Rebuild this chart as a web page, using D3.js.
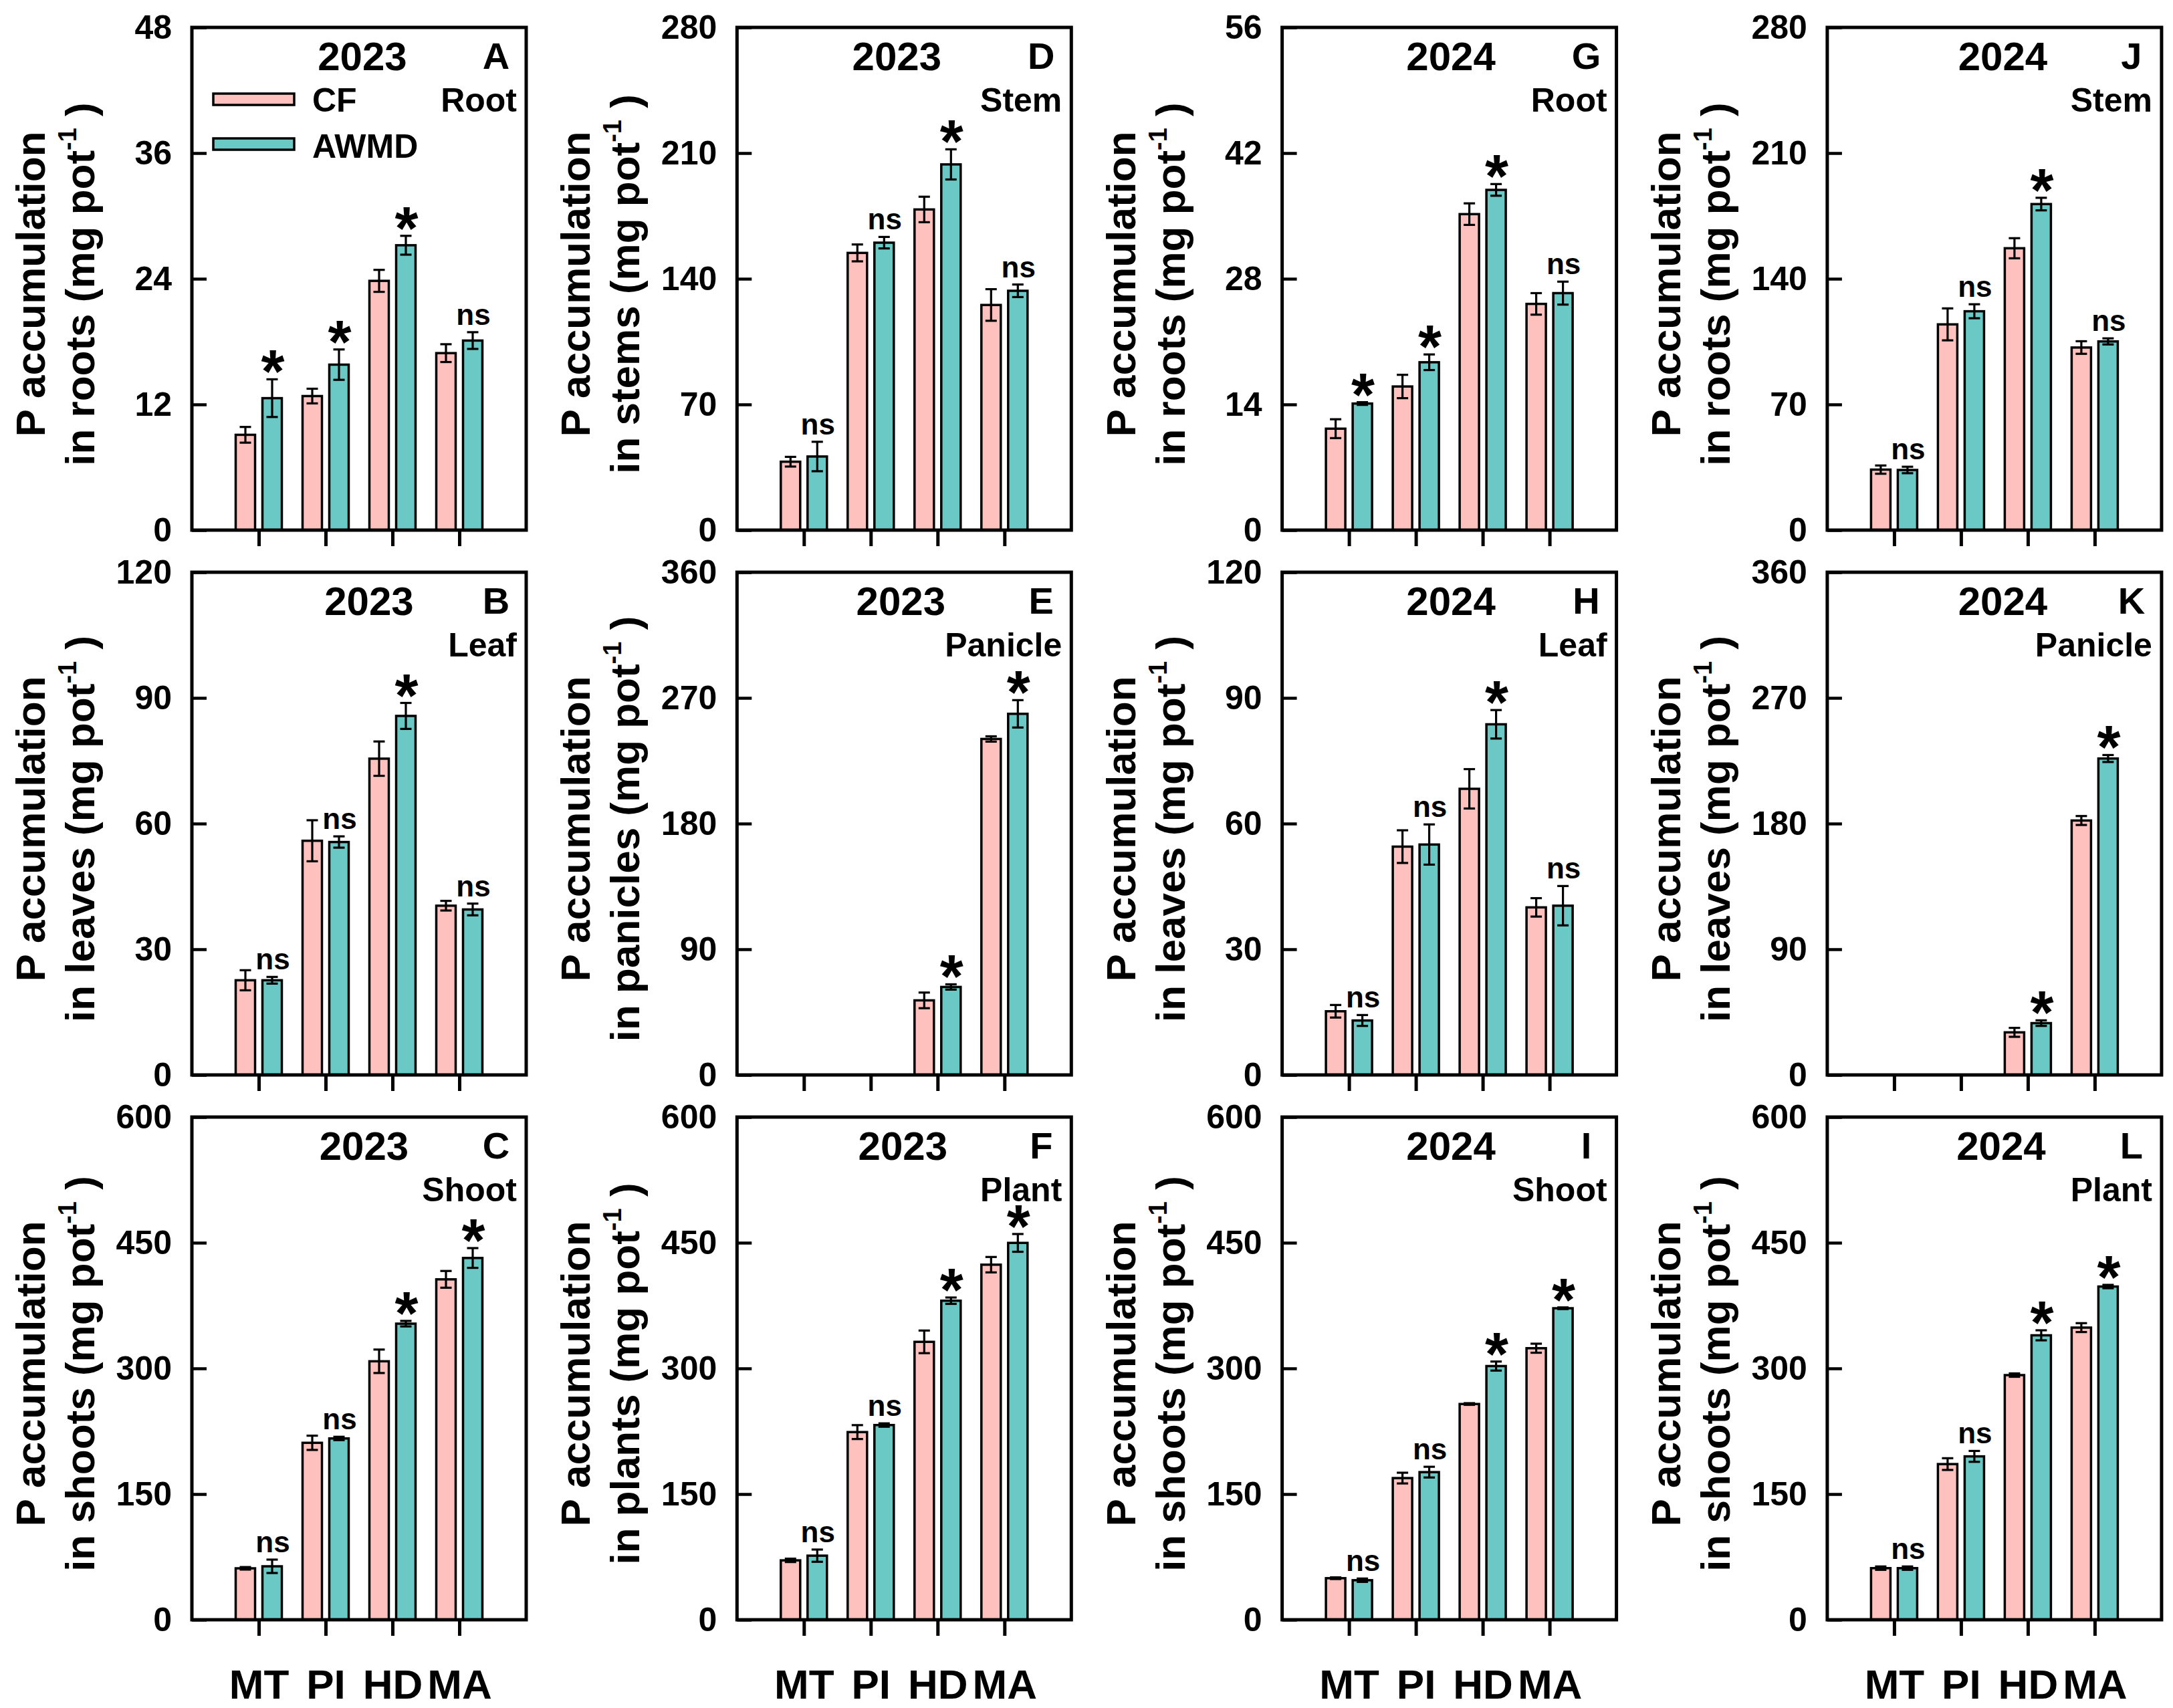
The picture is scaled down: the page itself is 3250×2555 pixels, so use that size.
<!DOCTYPE html>
<html>
<head>
<meta charset="utf-8">
<script src="https://cdn.jsdelivr.net/npm/d3@7"></script>
<style>
  body { margin: 0; background: #fff; }
  text { font-family: "Liberation Sans", Arial, sans-serif; font-weight: bold; }
</style>
</head>
<body>
<div id="chart"></div>
<script>

// ---- data ----
const stages = ["MT", "PI", "HD", "MA"];
const panelIds = ["A", "B", "C", "D", "E", "F", "G", "H", "I", "J", "K", "L"];
const years = ["2023", "2023", "2023", "2023", "2023", "2023",
               "2024", "2024", "2024", "2024", "2024", "2024"];
const organs = ["Root", "Leaf", "Shoot", "Stem", "Panicle", "Plant",
                "Root", "Leaf", "Shoot", "Stem", "Panicle", "Plant"];
const titleParts = ["roots", "leaves", "shoots", "stems", "panicles", "plants",
                    "roots", "leaves", "shoots", "roots", "leaves", "shoots"];
const yMax = [48, 120, 600, 280, 360, 600, 56, 120, 600, 280, 360, 600];

const cfMean = [
  [9.1, 12.8, 23.8, 16.9],       // A
  [22.6, 55.9, 75.5, 40.4],      // B
  [61.4, 211.2, 308.5, 406.3],   // C
  [38.1, 154.4, 178.6, 125.4],   // D
  [0, 0, 53.4, 240.6],           // E
  [70.9, 224.0, 331.7, 423.8],   // F
  [11.3, 16.0, 35.2, 25.2],      // G
  [15.2, 54.5, 68.3, 40.0],      // H
  [49.6, 169.1, 257.5, 324.1],   // I
  [33.7, 114.6, 157.0, 101.7],   // J
  [0, 0, 30.5, 182.2],           // K
  [61.6, 185.8, 292.0, 348.7]    // L
];
const cfSE = [
  [0.75, 0.7, 1.05, 0.85],
  [2.4, 4.9, 4.1, 1.15],
  [1.5, 8.5, 14, 10],
  [2.7, 4.7, 7.1, 8.8],
  [0, 0, 5.6, 1.9],
  [2, 8.3, 13.5, 9.2],
  [1.05, 1.3, 1.2, 1.2],
  [1.5, 3.9, 4.7, 2.2],
  [1, 6.4, 1, 5.4],
  [2.3, 8.9, 5.6, 3.5],
  [0, 0, 3.2, 3.2],
  [2, 7, 2, 5.3]
];
const awMean = [
  [12.6, 15.8, 27.2, 18.1],
  [22.6, 55.6, 85.7, 39.5],
  [63.8, 216.4, 353.4, 431.8],
  [41.0, 160.1, 203.7, 133.3],
  [0, 0, 63.0, 258.6],
  [76.5, 232.4, 380.8, 449.8],
  [14.1, 18.7, 37.9, 26.4],
  [13.0, 55.0, 83.7, 40.4],
  [47.2, 176.2, 302.8, 371.8],
  [33.5, 121.9, 181.6, 105.1],
  [0, 0, 37.1, 226.6],
  [61.6, 195.0, 339.5, 397.7]
];
const awSE = [
  [1.8, 1.45, 0.9, 0.8],
  [0.8, 1.35, 3.1, 1.4],
  [8, 2, 3.3, 11.8],
  [8.2, 3.2, 8.4, 3.5],
  [0, 0, 1.9, 9.8],
  [7.3, 2, 3.8, 10.6],
  [0.15, 0.87, 0.65, 1.28],
  [1.3, 4.8, 3.4, 4.7],
  [2, 6.4, 5.4, 1],
  [1.8, 3.9, 3.5, 1.7],
  [0, 0, 2, 2.5],
  [2, 6.5, 6, 2]
];
const sigMark = [
  ["*", "*", "*", "ns"],
  ["ns", "ns", "*", "ns"],
  ["ns", "ns", "*", "*"],
  ["ns", "ns", "*", "ns"],
  ["", "", "*", "*"],
  ["ns", "ns", "*", "*"],
  ["*", "*", "*", "ns"],
  ["ns", "ns", "*", "ns"],
  ["ns", "ns", "*", "*"],
  ["ns", "ns", "*", "ns"],
  ["", "", "*", "*"],
  ["ns", "ns", "*", "*"]
];
const seriesNames = ["CF", "AWMD"];

// ---- layout ----
const W = 3250, H = 2555;
const left0 = 287, colStep = 815.3;
const top0 = 41, rowStep = 815;
const plotW = 500, plotH = 752;
const yearFrac = [0.51, 0.53, 0.515, 0.478, 0.49, 0.496, 0.505, 0.505, 0.505, 0.525, 0.525, 0.52];
const colors = { cf: "#FFC1BD", aw: "#6AC8C5" };

const svg = d3.select("#chart").append("svg")
  .attr("width", W)
  .attr("height", H);

panelIds.forEach((id, i) => {
  const col = Math.floor(i / 3);
  const row = i % 3;
  const g = svg.append("g")
    .attr("transform", `translate(${left0 + col * colStep},${top0 + row * rowStep})`);

  const x = d3.scaleLinear().domain([0, 5]).range([0, plotW]);
  const y = d3.scaleLinear().domain([0, yMax[i]]).range([plotH, 0]);

  const rows = stages.map((s, j) => ({
    j: j,
    cf: cfMean[i][j], cfSe: cfSE[i][j],
    aw: awMean[i][j], awSe: awSE[i][j],
    sig: sigMark[i][j]
  }));

  const series = [
    { key: "cf", se: "cfSe", off: -20 },
    { key: "aw", se: "awSe", off: 20 }
  ];

  series.forEach(sr => {
    const pts = rows.filter(d => d[sr.key] > 0);
    const cx = d => x(d.j + 1) + sr.off;

    g.selectAll(".bar-" + sr.key)
      .data(pts)
      .enter().append("rect")
      .attr("class", "bar-" + sr.key)
      .attr("x", d => cx(d) - 14.5)
      .attr("width", 29)
      .attr("y", d => y(d[sr.key]))
      .attr("height", d => y(0) - y(d[sr.key]))
      .attr("fill", colors[sr.key])
      .attr("stroke", "#000")
      .attr("stroke-width", 3.5);

    const eb = g.selectAll(".err-" + sr.key)
      .data(pts)
      .enter().append("g")
      .attr("class", "err-" + sr.key)
      .attr("stroke", "#000")
      .attr("stroke-width", 3.2);

    eb.append("line")
      .attr("x1", cx).attr("x2", cx)
      .attr("y1", d => y(d[sr.key] - d[sr.se]))
      .attr("y2", d => y(d[sr.key] + d[sr.se]));
    eb.append("line")
      .attr("x1", d => cx(d) - 8.5).attr("x2", d => cx(d) + 8.5)
      .attr("y1", d => y(d[sr.key] + d[sr.se]))
      .attr("y2", d => y(d[sr.key] + d[sr.se]));
    eb.append("line")
      .attr("x1", d => cx(d) - 8.5).attr("x2", d => cx(d) + 8.5)
      .attr("y1", d => y(d[sr.key] - d[sr.se]))
      .attr("y2", d => y(d[sr.key] - d[sr.se]));
  });

  // significance marks above AWMD bars
  g.selectAll(".sig")
    .data(rows.filter(d => d.sig !== ""))
    .enter().append("text")
    .attr("class", "sig")
    .attr("x", d => x(d.j + 1) + 21)
    .attr("y", d => {
      const top = y(d.aw + d.awSe);
      return d.sig === "*" ? top + 20 : top - 11;
    })
    .attr("text-anchor", "middle")
    .attr("font-size", d => d.sig === "*" ? 90 : 44)
    .text(d => d.sig);

  // frame
  g.append("rect")
    .attr("width", plotW)
    .attr("height", plotH)
    .attr("fill", "none")
    .attr("stroke", "#000")
    .attr("stroke-width", 5);

  // y axis, inward ticks
  const ya = g.append("g")
    .call(d3.axisLeft(y)
      .tickValues(d3.range(5).map(k => yMax[i] * k / 4))
      .tickSize(-22)
      .tickPadding(30)
      .tickFormat(d3.format("d")))
    .attr("font-family", null)
    .attr("font-size", 50);
  ya.select(".domain").remove();
  ya.selectAll("line").attr("stroke-width", 4.5);
  ya.selectAll("text").attr("fill", "#000");

  // x axis, outward ticks; stage names only on the bottom row
  const xa = g.append("g")
    .attr("transform", `translate(0,${plotH})`)
    .call(d3.axisBottom(x)
      .tickValues([1, 2, 3, 4])
      .tickSize(24)
      .tickPadding(50)
      .tickFormat(d => stages[d - 1]))
    .attr("font-family", null)
    .attr("font-size", 62);
  xa.select(".domain").remove();
  xa.selectAll("line").attr("stroke-width", 5);
  xa.selectAll("text").attr("fill", "#000");
  if (row !== 2) xa.selectAll("text").remove();

  // in-panel labels
  g.append("text")
    .attr("x", plotW * yearFrac[i])
    .attr("y", 64)
    .attr("text-anchor", "middle")
    .attr("font-size", 60)
    .text(years[i]);
  g.append("text")
    .attr("x", plotW - 45)
    .attr("y", 62)
    .attr("text-anchor", "middle")
    .attr("font-size", 56)
    .text(id);
  g.append("text")
    .attr("x", plotW - 14)
    .attr("y", 126)
    .attr("text-anchor", "end")
    .attr("font-size", 50)
    .text(organs[i]);

  // y title, two lines
  const cy = plotH / 2 + 8;
  g.append("text")
    .attr("transform", `translate(-220,${cy}) rotate(-90)`)
    .attr("text-anchor", "middle")
    .attr("font-size", 62)
    .text("P accumulation");
  const t2 = g.append("text")
    .attr("transform", `translate(-146,${cy}) rotate(-90)`)
    .attr("text-anchor", "middle")
    .attr("font-size", 62);
  t2.append("tspan").text(`in ${titleParts[i]} (mg pot`);
  t2.append("tspan").attr("font-size", 38).attr("dy", -27).text("-1");
  t2.append("tspan").attr("dy", 27).text(" )");

  // legend in first panel
  if (i === 0) {
    const lg = g.append("g");
    ["cf", "aw"].forEach((k, n) => {
      lg.append("rect")
        .attr("x", 32)
        .attr("y", 99 + n * 67)
        .attr("width", 121)
        .attr("height", 17)
        .attr("fill", colors[k])
        .attr("stroke", "#000")
        .attr("stroke-width", 3.5);
      lg.append("text")
        .attr("x", 180)
        .attr("y", 126 + n * 69)
        .attr("font-size", 50)
        .text(seriesNames[n]);
    });
  }
});

</script>
</body>
</html>
